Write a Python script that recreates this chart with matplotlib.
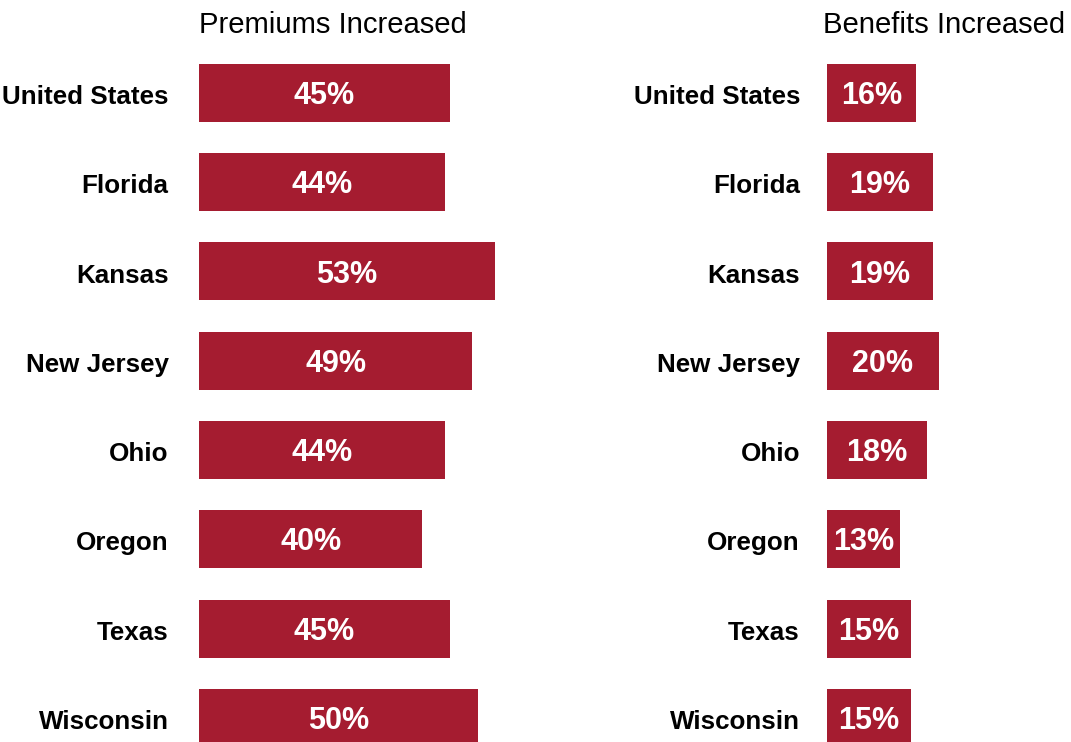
import matplotlib
matplotlib.use("Agg")
import matplotlib.pyplot as plt
import matplotlib.transforms as mtransforms

plt.rcParams['font.family'] = ['Liberation Sans', 'DejaVu Sans']

states = ["United States", "Florida", "Kansas", "New Jersey", "Ohio", "Oregon", "Texas", "Wisconsin"]
premiums = [45, 44, 53, 49, 44, 40, 45, 50]
benefits = [16, 19, 19, 20, 18, 13, 15, 15]
titles = ["Premiums Increased", "Benefits Increased"]

W, H = 1071, 742
color = "#A51C30"
pxper = 5.58  # pixels per percentage point
y0 = 92.8
step = 89.29
base_off = 11.2 / step  # baseline offset below bar center, in data units

fig = plt.figure(figsize=(W / 100, H / 100), dpi=100)

def make_axes(left_px, width_px, values, title, title_x_px, label_right_px):
    ax = fig.add_axes([left_px / W, 0, width_px / W, 1])
    ax.set_xlim(0, width_px / pxper)
    ax.set_ylim((H - y0) / step, -y0 / step)
    ypos = list(range(len(states)))
    ax.barh(ypos, values, height=0.65, color=color)
    for y, v in zip(ypos, values):
        ax.text(v / 2, y + base_off, f"{v}%", ha="center", va="baseline", color="white",
                fontsize=22, fontweight="bold")
    trans = mtransforms.blended_transform_factory(ax.transAxes, ax.transData)
    lx = (label_right_px - left_px) / width_px
    for y, s in zip(ypos, states):
        ax.text(lx, y + base_off, s, ha="right", va="baseline", transform=trans,
                fontsize=18.7, fontweight="bold", color="black")
    ax.set_yticks([])
    ax.set_xticks([])
    for s in ax.spines.values():
        s.set_visible(False)
    fig.text(title_x_px / W, 1 - 33 / H, title, ha="left", va="baseline", fontsize=21.1)
    return ax

make_axes(199, 320, premiums, titles[0], 199, 168.5)
make_axes(827, 240, benefits, titles[1], 823, 800)

fig.savefig("out.png", dpi=100)
